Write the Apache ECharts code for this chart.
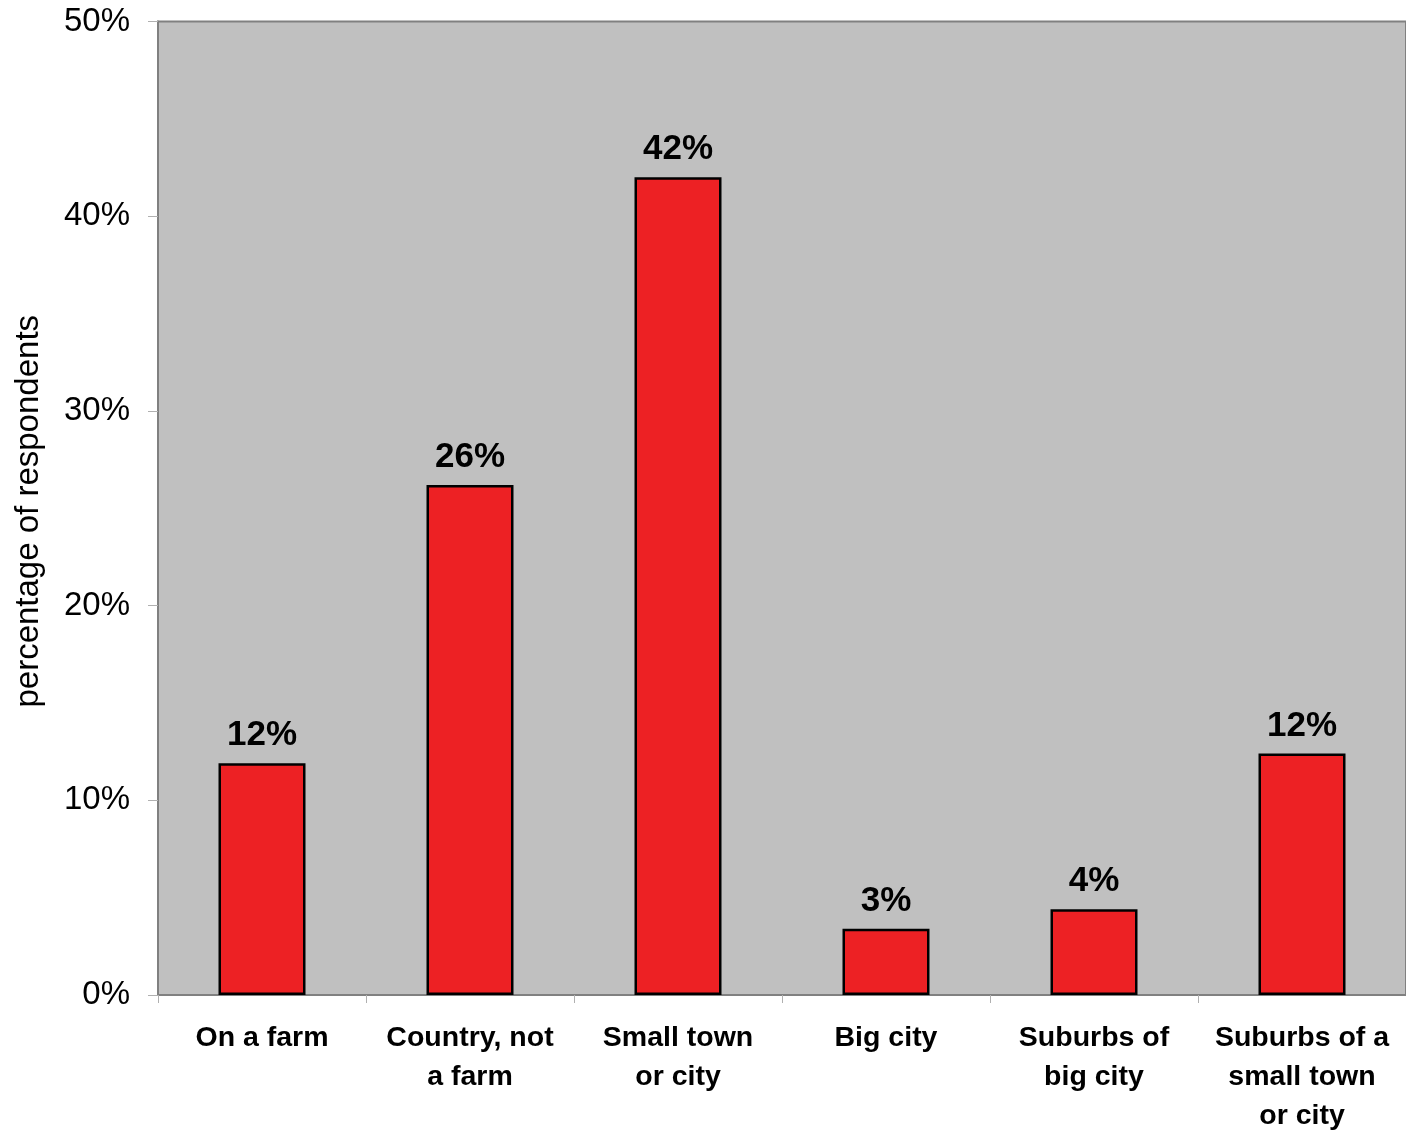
<!DOCTYPE html>
<html><head><meta charset="utf-8">
<script src="https://cdn.jsdelivr.net/npm/echarts@6/dist/echarts.min.js"></script>
<style>html,body{margin:0;padding:0;background:#fff}#c{width:1406px;height:1136px}</style>
</head><body><div id="c"></div>
<script>
var categories = ["On a farm", "Country, not\na farm", "Small town\nor city", "Big city", "Suburbs of\nbig city", "Suburbs of a\nsmall town\nor city"];
var values = [11.9, 26.2, 42.0, 3.4, 4.4, 12.4];
var yTicks = [0, 10, 20, 30, 40, 50];

var FONT = 'Liberation Sans, Arial, sans-serif';
var chart = echarts.init(document.getElementById('c'), null, {renderer: 'canvas'});
chart.setOption({
  animation: false,
  textStyle: {fontFamily: FONT},
  grid: {left: 158, top: 20, right: 0, bottom: 141, show: true, backgroundColor: '#C0C0C0', borderColor: '#808080', borderWidth: 2},
  xAxis: {
    type: 'category',
    data: categories,
    axisLine: {show: true, lineStyle: {color: '#808080', width: 2}},
    axisTick: {show: true, length: 8, lineStyle: {color: '#b0b0b0', width: 1}},
    axisLabel: {color: '#000', fontSize: 28.5, fontWeight: 'bold', lineHeight: 39, margin: 24, interval: 0, fontFamily: FONT}
  },
  yAxis: {
    type: 'value',
    min: yTicks[0], max: yTicks[yTicks.length - 1], interval: 10,
    name: 'percentage of respondents',
    nameLocation: 'middle',
    nameGap: 113,
    nameTextStyle: {color: '#000', fontSize: 33, fontFamily: FONT, padding: [0, 6, 0, 0]},
    splitLine: {show: false},
    axisLine: {show: true, lineStyle: {color: '#808080', width: 2}},
    axisTick: {show: true, length: 10, lineStyle: {color: '#b0b0b0', width: 1}},
    axisLabel: {color: '#000', fontSize: 33, margin: 28, lineHeight: 33, padding: [10, 0, 0, 0],
      formatter: function (v) { return v + '%'; }, fontFamily: FONT}
  },
  series: [{
    type: 'bar',
    data: values,
    barWidth: 87,
    itemStyle: {color: '#ED2124', borderColor: '#000', borderWidth: 2.5},
    label: {show: true, position: 'top', distance: 10, color: '#000', fontSize: 35, fontWeight: 'bold', fontFamily: FONT,
      formatter: function (p) { return Math.round(p.value) + '%'; }}
  }]
});
</script></body></html>
